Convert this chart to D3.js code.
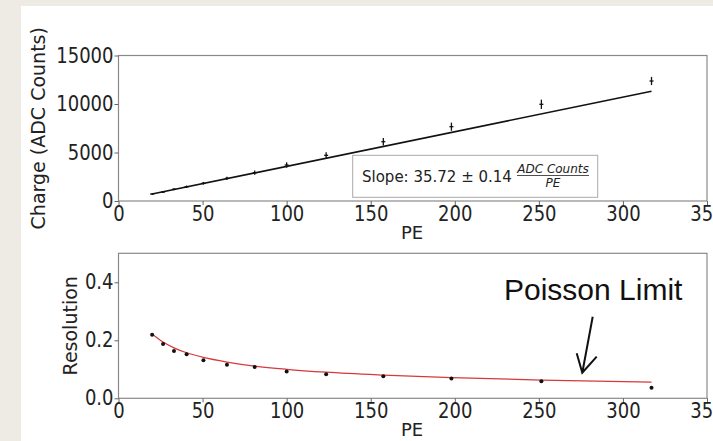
<!DOCTYPE html>
<html>
<head>
<meta charset="utf-8">
<script src="https://cdn.jsdelivr.net/npm/d3@7"></script>
<style>
  body { margin: 0; background: #eeebe4; }
  svg { display: block; }
  .tick text { font-family: "DejaVu Sans", sans-serif; fill: #222; }
</style>
</head>
<body>
<svg id="canvas"></svg>
<script>
// ########## Data ##########
pe = [20, 26.5, 33, 40.5, 50.5, 64.5, 81, 100, 123.5, 157.5, 198, 251.5, 317];
charge = [722, 928, 1206, 1474, 1825, 2340, 2918, 3711, 4710, 6113, 7660, 9970, 12371];
chargeErr = [90, 100, 110, 120, 140, 170, 220, 280, 320, 380, 420, 480, 420];
fitPE = [20, 317];
fitCharge = [714, 11323];
resolution = [0.219, 0.187, 0.163, 0.152, 0.131, 0.116, 0.108, 0.092, 0.083, 0.076, 0.068, 0.059, 0.036];
poissonLimit = [0.222, 0.194, 0.174, 0.157, 0.141, 0.125, 0.111, 0.100, 0.090, 0.080, 0.071, 0.063, 0.056];
xTicks = [0, 50, 100, 150, 200, 250, 300, 350];
chargeTicks = [0, 5000, 10000, 15000];
resTicks = [0.0, 0.2, 0.4];

w = 713;
h = 441;

svg = d3.select("#canvas").attr("width", w).attr("height", h);

// white slide area
svg.append("rect").attr("x", 21).attr("y", 6).attr("width", w - 21).attr("height", h - 6).attr("fill", "#fff");

left = 118.5; right = 707;

x = d3.scaleLinear().domain([0, 350]).range([left, right]);

// ########## Axes helper ##########
function drawFrame(yScale, top, bottom, ticks, fmt, ylabel, ylabelX) {
    svg.append("rect")
        .attr("x", left).attr("y", top)
        .attr("width", right - left).attr("height", bottom - top)
        .attr("fill", "none").attr("stroke", "#8a8a8a").attr("stroke-width", 1.2);

    var gx = svg.append("g")
        .attr("transform", "translate(0," + bottom + ")")
        .call(d3.axisBottom(x).tickValues(xTicks).tickSize(4).tickPadding(1).tickFormat(d3.format("d")));
    var gy = svg.append("g")
        .attr("transform", "translate(" + left + ",0)")
        .call(d3.axisLeft(yScale).tickValues(ticks).tickSize(4).tickPadding(1).tickFormat(fmt));
    [gx, gy].forEach(function (g) {
        g.select(".domain").remove();
        g.selectAll(".tick line").attr("stroke", "#666");
        g.selectAll(".tick text").attr("font-size", 18).attr("transform", "scale(1,1.13)");
    });

    svg.append("text")
        .attr("x", 412).attr("y", bottom + 38)
        .attr("text-anchor", "middle")
        .attr("font-family", "DejaVu Sans, sans-serif").attr("font-size", 18).attr("fill", "#222")
        .text("PE");

    svg.append("text")
        .attr("transform", "translate(" + ylabelX + "," + ((top + bottom) / 2) + ") rotate(-90)")
        .attr("text-anchor", "middle").attr("dominant-baseline", "central")
        .attr("font-family", "DejaVu Sans, sans-serif").attr("font-size", 19).attr("fill", "#222")
        .text(ylabel);
}

// ########## Top plot: Charge ##########
y1 = d3.scaleLinear().domain([0, 15000]).range([201, 55.5]);
drawFrame(y1, 55.5, 201, chargeTicks, d3.format("d"), "Charge (ADC Counts)", 38);

svg.append("path")
    .datum(d3.range(fitPE.length))
    .attr("fill", "none").attr("stroke", "#111").attr("stroke-width", 1.6)
    .attr("d", d3.line().x(function (i) { return x(fitPE[i]); }).y(function (i) { return y1(fitCharge[i]); }));

errs = svg.append("g").selectAll("g").data(d3.range(pe.length)).enter().append("g");
errs.append("line")
    .attr("x1", function (i) { return x(pe[i]); }).attr("x2", function (i) { return x(pe[i]); })
    .attr("y1", function (i) { return y1(charge[i] - chargeErr[i]); })
    .attr("y2", function (i) { return y1(charge[i] + chargeErr[i]); })
    .attr("stroke", "#111").attr("stroke-width", 1.3);
errs.append("line")
    .attr("x1", function (i) { return x(pe[i]) - 2; }).attr("x2", function (i) { return x(pe[i]) + 2; })
    .attr("y1", function (i) { return y1(charge[i]); }).attr("y2", function (i) { return y1(charge[i]); })
    .attr("stroke", "#111").attr("stroke-width", 1.3);

// legend box
svg.append("rect")
    .attr("x", 352.7).attr("y", 155.3).attr("width", 245).attr("height", 42)
    .attr("fill", "#fff").attr("stroke", "#aaa").attr("stroke-width", 1);
svg.append("text")
    .attr("x", 362).attr("y", 182)
    .attr("font-family", "DejaVu Sans, sans-serif").attr("font-size", 15).attr("fill", "#222")
    .text("Slope: 35.72 \u00b1 0.14");
svg.append("text")
    .attr("x", 553).attr("y", 173)
    .attr("text-anchor", "middle")
    .attr("font-family", "DejaVu Sans, sans-serif").attr("font-style", "italic").attr("font-size", 12).attr("fill", "#222")
    .text("ADC Counts");
svg.append("line")
    .attr("x1", 517).attr("x2", 589).attr("y1", 175.5).attr("y2", 175.5)
    .attr("stroke", "#222").attr("stroke-width", 0.8);
svg.append("text")
    .attr("x", 553).attr("y", 187)
    .attr("text-anchor", "middle")
    .attr("font-family", "DejaVu Sans, sans-serif").attr("font-style", "italic").attr("font-size", 12).attr("fill", "#222")
    .text("PE");

// ########## Bottom plot: Resolution ##########
y2 = d3.scaleLinear().domain([0, 0.5]).range([398.3, 253.3]);
drawFrame(y2, 253.3, 398.3, resTicks, d3.format(".1f"), "Resolution", 70);

svg.append("path")
    .datum(d3.range(pe.length))
    .attr("fill", "none").attr("stroke", "#d9383a").attr("stroke-width", 1.2)
    .attr("d", d3.line().curve(d3.curveMonotoneX)
        .x(function (i) { return x(pe[i]); }).y(function (i) { return y2(poissonLimit[i]); }));

svg.append("g").selectAll("circle").data(d3.range(pe.length)).enter().append("circle")
    .attr("cx", function (i) { return x(pe[i]); })
    .attr("cy", function (i) { return y2(resolution[i]); })
    .attr("r", 2).attr("fill", "#111");

// annotation
svg.append("text")
    .attr("x", 504).attr("y", 300)
    .attr("font-family", "Liberation Sans, Arial, sans-serif").attr("font-size", 30).attr("fill", "#111")
    .text("Poisson Limit");
svg.append("path")
    .attr("d", "M592.7,316.7 L582.3,372.7 M576.7,353.3 L582.3,372.7 L596.7,356.7")
    .attr("fill", "none").attr("stroke", "#111").attr("stroke-width", 2);
</script>
</body>
</html>
